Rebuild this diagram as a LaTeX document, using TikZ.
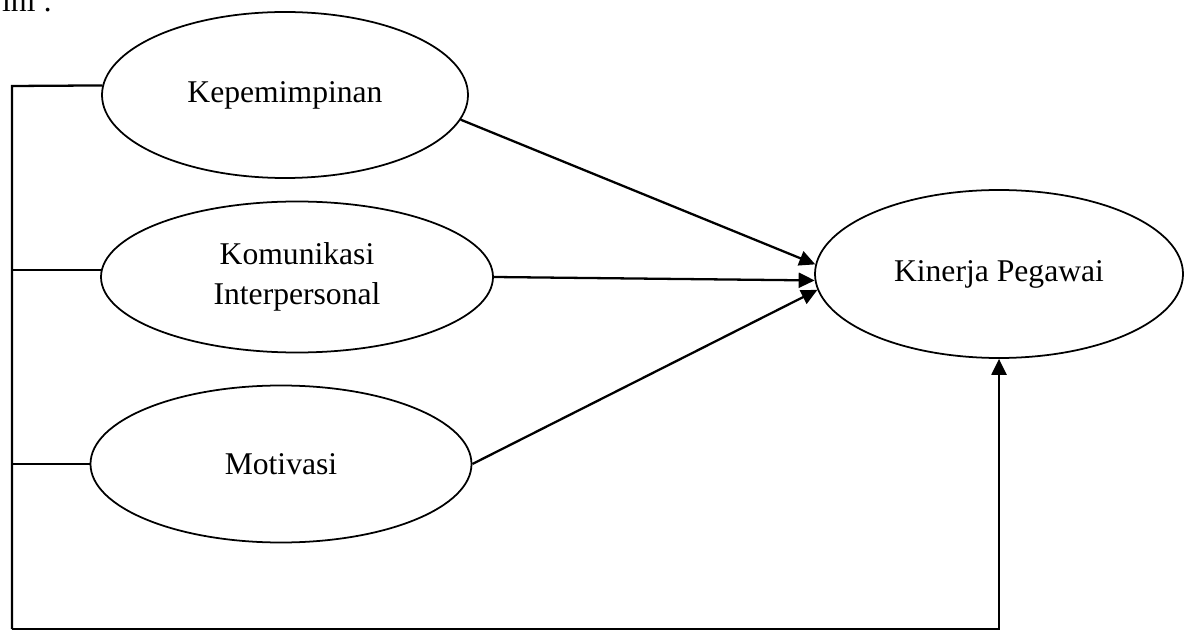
\documentclass[tikz,border=0pt]{standalone}
\usepackage{fontspec}
\setmainfont{Liberation Serif}
\usetikzlibrary{arrows.meta, shapes.geometric}

\begin{document}
\begin{tikzpicture}[
        > = {Triangle[length=3.2mm,width=3mm]}, % arrow head style
        line width = 1.3pt, % line style
        font = \fontsize{18}{23}\selectfont
      ]

      \tikzstyle{var}=[ellipse, draw=black, line width=1pt, inner sep=0pt, align=center]

      \useasboundingbox (0,0) rectangle (23.78,-12.62);

      % leftover text of the page
      \node (ini) [anchor=base west, inner sep=0pt] at (0.02,-0.24) {ini :};

      \node[var, minimum width=7.32cm, minimum height=3.32cm] (kep) at (5.70,-1.90) {Kepemimpinan};
      \node[var, minimum width=7.84cm, minimum height=3.02cm] (kom) at (5.94,-5.54) {Komunikasi\\Interpersonal};
      \node[var, minimum width=7.62cm, minimum height=3.14cm] (mot) at (5.62,-9.28) {Motivasi};
      \node[var, minimum width=7.36cm, minimum height=3.36cm] (kin) at (19.98,-5.48) {Kinerja Pegawai};

      \coordinate (lt) at (0.24,-1.72);
      \coordinate (lb) at (0.24,-12.58);

      \draw[->] (kep.-8) -- (kin.177);
      \draw[->] (kom.east) -- (kin.182);
      \draw[->] (mot.east) -- (kin.185);

      \draw (kep.177) -- (lt) -- (lb);
      \draw (kom.178) -- (kom.178 -| lt);
      \draw (mot.west) -- (mot.west -| lt);
      \draw[->] (lb) -| (kin.south);

    \end{tikzpicture}
\end{document}
